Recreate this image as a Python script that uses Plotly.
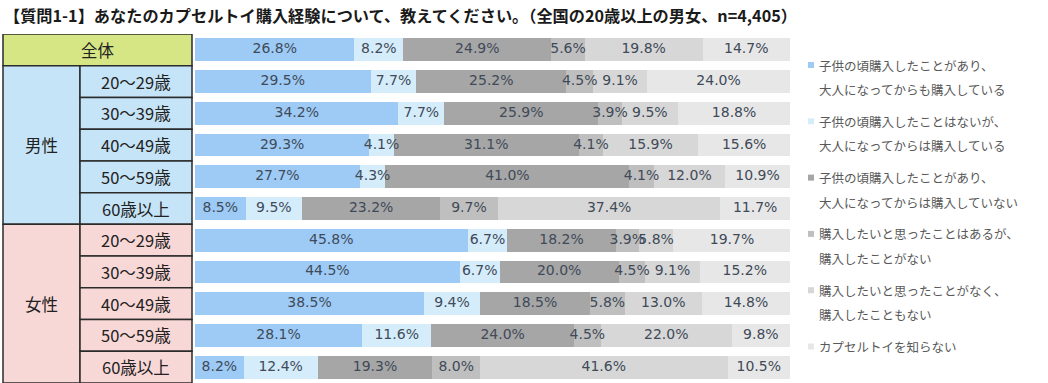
import plotly.graph_objects as go

# ---------------- data ----------------
groups = ["全体", "男性", "女性"]
age_labels = ["20～29歳", "30～39歳", "40～49歳", "50～59歳", "60歳以上"]
row_labels = ["全体"] + [f"男性 {a}" for a in age_labels] + [f"女性 {a}" for a in age_labels]

series_names = [
    "子供の頃購入したことがあり、<br>大人になってからも購入している",
    "子供の頃購入したことはないが、<br>大人になってからは購入している",
    "子供の頃購入したことがあり、<br>大人になってからは購入していない",
    "購入したいと思ったことはあるが、<br>購入したことがない",
    "購入したいと思ったことがなく、<br>購入したこともない",
    "カプセルトイを知らない",
]
s1 = [26.8, 29.5, 34.2, 29.3, 27.7, 8.5, 45.8, 44.5, 38.5, 28.1, 8.2]
s2 = [8.2, 7.7, 7.7, 4.1, 4.3, 9.5, 6.7, 6.7, 9.4, 11.6, 12.4]
s3 = [24.9, 25.2, 25.9, 31.1, 41.0, 23.2, 18.2, 20.0, 18.5, 24.0, 19.3]
s4 = [5.6, 4.5, 3.9, 4.1, 4.1, 9.7, 3.9, 4.5, 5.8, 4.5, 8.0]
s5 = [19.8, 9.1, 9.5, 15.9, 12.0, 37.4, 5.8, 9.1, 13.0, 22.0, 41.6]
s6 = [14.7, 24.0, 18.8, 15.6, 10.9, 11.7, 19.7, 15.2, 14.8, 9.8, 10.5]
series_values = [s1, s2, s3, s4, s5, s6]

title_text = "【質問1-1】あなたのカプセルトイ購入経験について、教えてください。（全国の20歳以上の男女、n=4,405）"

# ---------------- style ----------------
colors = ["#9dcbf6", "#d5ecfb", "#a6a6a6", "#bfbfbf", "#d7d7d7", "#e7e7e7"]
label_color = "#404a58"
W, H = 1048, 383
FONT_JP = "Noto Sans CJK JP"
TOP = 34

n = len(row_labels)
ypos = list(range(n))

fig = go.Figure()
for name, vals, col in zip(series_names, series_values, colors):
    fig.add_trace(go.Bar(
        x=vals, y=ypos, orientation="h", name=name,
        marker=dict(color=col, line=dict(width=0)),
        showlegend=False, hoverinfo="x+name",
    ))

# value labels drawn on top of all bars (centre of each stacked segment)
lab_x, lab_y, lab_t = [], [], []
for r in range(n):
    cum = 0.0
    for vals in series_values:
        v = vals[r]
        lab_x.append(cum + v / 2)
        lab_y.append(r)
        lab_t.append(f"{v:.1f}%")
        cum += v
fig.add_trace(go.Scatter(
    x=lab_x, y=lab_y, text=lab_t, mode="text", textposition="middle center",
    textfont=dict(family="DejaVu Sans", size=14, color=label_color),
    showlegend=False, hoverinfo="skip", cliponaxis=False,
))

fig.update_layout(
    barmode="stack", bargap=0.28,
    width=W, height=H,
    margin=dict(l=0, r=0, t=TOP, b=0),
    paper_bgcolor="white", plot_bgcolor="white",
    xaxis=dict(domain=[195 / W, 790 / W], range=[0, 100], visible=False, fixedrange=True),
    yaxis=dict(range=[n - 0.5, -0.5], visible=False, fixedrange=True),
)

# ---------------- table (left) ----------------
px = lambda v: v / W
x_left, x_mid, x_right = px(3), px(80), px(192)
fills = {"全体": "#d7e685", "男性": "#c6e4f7", "女性": "#f8d7d7"}
border = dict(color="#2b2b2b", width=1.5)
cell_font = dict(family=FONT_JP, size=16.5, color="#222222")

fig.add_shape(type="rect", xref="paper", yref="y", x0=x_left, x1=x_right, y0=-0.5, y1=0.5,
              fillcolor=fills["全体"], line=border, layer="below")
fig.add_annotation(xref="paper", yref="y", x=(x_left + x_right) / 2, y=0, text="全体",
                   xanchor="center", yanchor="middle", showarrow=False, font=cell_font)

for gi, g in enumerate(groups[1:]):
    start = 1 + gi * len(age_labels)
    end = start + len(age_labels) - 1
    fig.add_shape(type="rect", xref="paper", yref="y", x0=x_left, x1=x_mid,
                  y0=start - 0.5, y1=end + 0.5, fillcolor=fills[g], line=border, layer="below")
    fig.add_annotation(xref="paper", yref="y", x=(x_left + x_mid) / 2, y=(start + end) / 2,
                       text=g, xanchor="center", yanchor="middle", showarrow=False, font=cell_font)
    for ai, a in enumerate(age_labels):
        r = start + ai
        fig.add_shape(type="rect", xref="paper", yref="y", x0=x_mid, x1=x_right,
                      y0=r - 0.5, y1=r + 0.5, fillcolor=fills[g], line=border, layer="below")
        fig.add_annotation(xref="paper", yref="y", x=(x_mid + x_right) / 2, y=r, text=a,
                           xanchor="center", yanchor="middle", showarrow=False, font=cell_font)

# ---------------- title ----------------
plot_h = H - TOP
def yfrac(pix):
    return 1 - (pix - TOP) / plot_h

fig.add_annotation(xref="paper", yref="paper", x=px(2), y=yfrac(15),
                   xanchor="left", yanchor="middle", showarrow=False,
                   text=f"<b>{title_text}</b>",
                   font=dict(family=FONT_JP, size=16.2, color="#1a1a1a"))

# ---------------- legend (manual) ----------------
for i, (name, col) in enumerate(zip(series_names, colors)):
    top = 65 + i * 56.3
    lines = name.split("<br>")
    s = 6
    fig.add_shape(type="rect", xref="paper", yref="paper",
                  x0=px(808), x1=px(808 + s), y0=yfrac(top + s / 2), y1=yfrac(top - s / 2),
                  fillcolor=col, line=dict(width=0))
    for li, ln in enumerate(lines):
        fig.add_annotation(xref="paper", yref="paper", x=px(817), y=yfrac(top + li * 24.5),
                           xanchor="left", yanchor="middle", showarrow=False, text=ln,
                           font=dict(family=FONT_JP, size=12.5, color="#595959"))

fig.write_html(
    "out.html",
    config={"displayModeBar": False},
    post_script="document.body.style.margin='0';document.body.style.padding='0';document.body.style.overflow='hidden';",
)
